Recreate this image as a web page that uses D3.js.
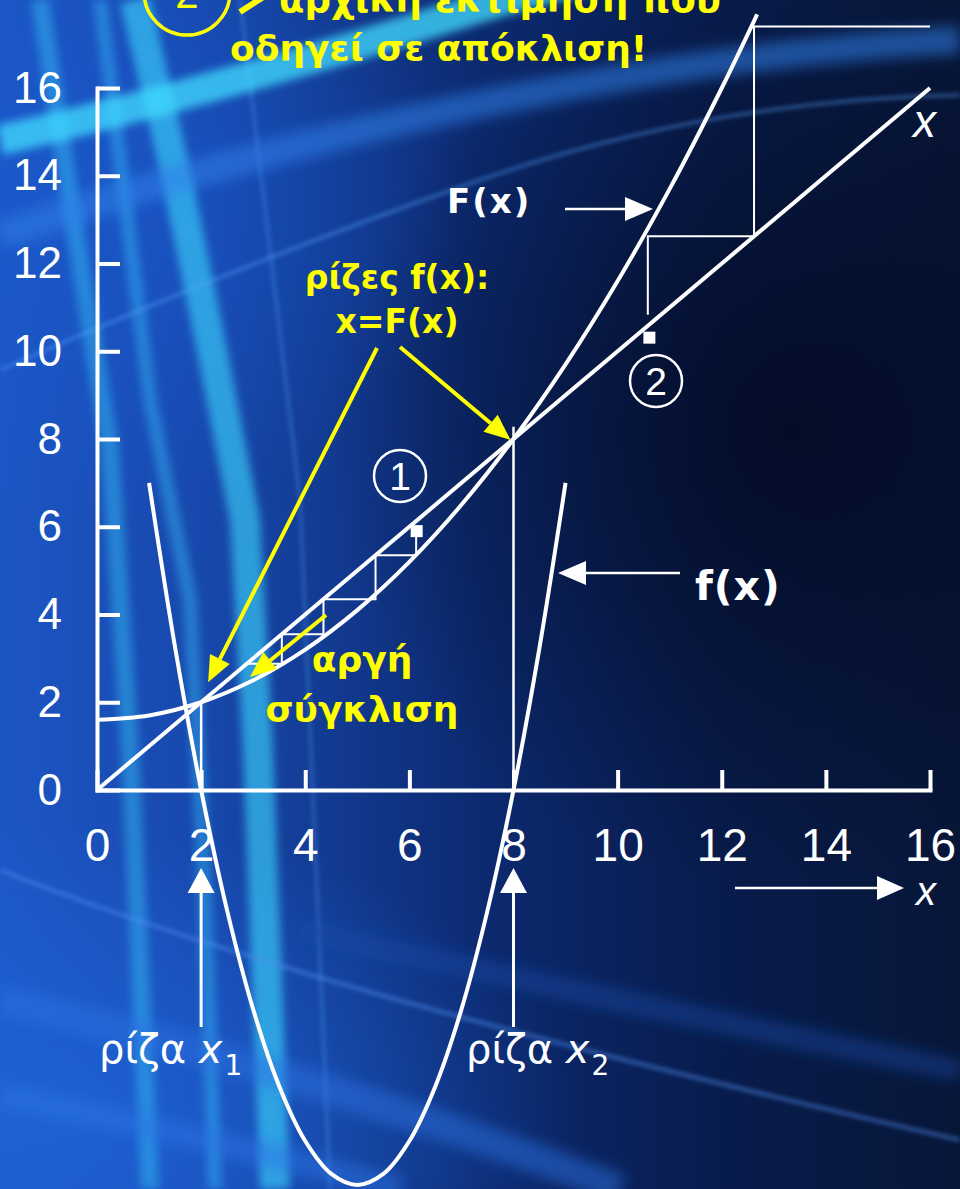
<!DOCTYPE html>
<html><head><meta charset="utf-8">
<script src="https://cdn.jsdelivr.net/npm/d3@7"></script>
<style>
html,body{margin:0;padding:0;background:#07163a;}
svg{display:block;}
</style></head><body>
<svg id="chart" width="960" height="1189"></svg>
<script>
// ---------- data ----------
const xTicks = [0, 2, 4, 6, 8, 10, 12, 14, 16];
const yTicks = [0, 2, 4, 6, 8, 10, 12, 14, 16];

// iteration function F(x), sampled along x
const bigFX = [0, 1, 2, 3, 4, 5, 6, 7, 8, 9, 10, 11, 12, 12.68];
const bigFY = [1.6, 1.7, 2.0, 2.5, 3.2, 4.1, 5.2, 6.5, 8.0, 9.7, 11.6, 13.7, 16.0, 17.68];

// f(x), sampled along x
const smallFX = [1, 1.5, 2, 2.5, 3, 3.5, 4, 4.5, 5, 5.5, 6, 6.5, 7, 7.5, 8, 8.5, 9];
const smallFY = [7, 3.25, 0, -2.75, -5, -6.75, -8, -8.75, -9, -8.75, -8, -6.75, -5, -2.75, 0, 3.25, 7];

// line y = x
const diagX = [0, 16];

// roots and their drop lines
const roots = [2, 8];
const rootDropTop = [2.0, 8.28];
const rootLabels = ["1", "2"];

// fixed-point iterates: 1 converges slowly, 2 diverges
const cobweb1 = [6.13, 5.35, 4.35, 3.55, 2.88];
const cobweb2 = [10.58, 12.62, 17.4];
const cobStartY = [5.9, 10.83];
const startMarkers = [[6.14, 5.9], [10.61, 10.31]];

// ---------- layout ----------
const W = 960, H = 1189;
const svg = d3.select("#chart");
const x = d3.scaleLinear().domain([0, 16]).range([97, 930]);
const y = d3.scaleLinear().domain([0, 16]).range([790, 88]);

const YEL = "#ffff00";
const sansBold = "'DejaVu Sans', Verdana, sans-serif";
const arial = "'Liberation Sans', Arial, sans-serif";

// ---------- background ----------
const defs = svg.append("defs");
const lg = defs.append("linearGradient").attr("id", "bgH").attr("x1", 0).attr("x2", 1).attr("y1", 0).attr("y2", 0);
[[0, "#1c56c4"], [0.22, "#1747ab"], [0.5, "#0c2a70"], [0.75, "#081c4c"], [1, "#071638"]]
  .forEach(([o, c]) => lg.append("stop").attr("offset", o).attr("stop-color", c));

function radial(id, stops) {
  const g = defs.append("radialGradient").attr("id", id);
  stops.forEach(([o, c, op]) => g.append("stop").attr("offset", o).attr("stop-color", c).attr("stop-opacity", op));
}
radial("darkR", [[0, "#030a22", 0.85], [1, "#030a22", 0]]);
radial("glowBL", [[0, "#1f66dc", 0.75], [1, "#1f66dc", 0]]);
radial("glowTL", [[0, "#1a5ad0", 0.6], [1, "#1a5ad0", 0]]);

function blurFilter(id, sd) {
  defs.append("filter").attr("id", id).attr("x", "-20%").attr("y", "-20%").attr("width", "140%").attr("height", "140%")
    .append("feGaussianBlur").attr("stdDeviation", sd);
}
blurFilter("blurBig", 7);
blurFilter("blurMid", 4);
blurFilter("blurSm", 2);

const bg = svg.append("g").attr("class", "background");
bg.append("rect").attr("width", W).attr("height", H).attr("fill", "url(#bgH)");
bg.append("ellipse").attr("cx", 790).attr("cy", 430).attr("rx", 460).attr("ry", 460).attr("fill", "url(#darkR)");
bg.append("ellipse").attr("cx", 60).attr("cy", 1120).attr("rx", 520).attr("ry", 300).attr("fill", "url(#glowBL)");
bg.append("ellipse").attr("cx", 80).attr("cy", 200).attr("rx", 380).attr("ry", 320).attr("fill", "url(#glowTL)");

const streaks = [
  // vertical glow bands
  { d: "M40,0 L75,230 L110,450 L130,750 L150,1189", w: 18, c: "#38c4f8", o: 0.45, f: "blurMid" },
  { d: "M135,0 L175,170 L210,340 L245,520 L258,750 L275,1189", w: 30, c: "#3ed8ff", o: 0.6, f: "blurMid" },
  { d: "M100,0 L150,400 L190,600 L205,900 L215,1189", w: 14, c: "#3ac8ff", o: 0.4, f: "blurMid" },
  { d: "M240,0 L300,500 L330,1189", w: 3, c: "#5aa8ff", o: 0.35, f: "blurSm" },
  // sweeping horizontal bands
  { d: "M0,140 Q200,95 480,8 T960,-40", w: 30, c: "#42dcff", o: 0.75, f: "blurMid" },
  { d: "M0,235 Q250,150 500,100 T960,40", w: 28, c: "#2f80ea", o: 0.55, f: "blurBig" },
  { d: "M0,370 Q250,260 480,180 T960,95", w: 3, c: "#56a6ff", o: 0.5, f: "blurSm" },
  { d: "M0,870 Q300,990 960,1140", w: 4, c: "#4f90f2", o: 0.5, f: "blurSm" },
  { d: "M0,1000 Q300,1070 620,1189", w: 30, c: "#2a70e2", o: 0.5, f: "blurBig" },
  { d: "M0,1095 Q200,1135 400,1189", w: 24, c: "#2c74e6", o: 0.5, f: "blurBig" },
  { d: "M300,930 Q650,1010 960,1070", w: 22, c: "#1c4aa8", o: 0.45, f: "blurBig" }
];
bg.selectAll("path.streak").data(streaks).join("path")
  .attr("class", "streak")
  .attr("d", d => d.d).attr("fill", "none")
  .attr("stroke", d => d.c).attr("stroke-width", d => d.w)
  .attr("stroke-opacity", d => d.o).attr("filter", d => `url(#${d.f})`);

// ---------- axes ----------
const axisG = svg.append("g").attr("class", "axes");
const yAxis = d3.axisLeft(y).tickValues(yTicks).tickSize(-23).tickSizeOuter(0).tickPadding(35);
const xAxis = d3.axisBottom(x).tickValues(xTicks).tickSize(-20).tickSizeOuter(0).tickPadding(38);

const gy = axisG.append("g").attr("transform", `translate(${x(0)},0)`).call(yAxis);
const gx = axisG.append("g").attr("transform", `translate(0,${y(0)})`).call(xAxis);
[gy, gx].forEach(g => {
  g.select(".domain").attr("stroke", "#fff").attr("stroke-width", 4).attr("stroke-linecap", "square");
  g.selectAll(".tick line").attr("stroke", "#fff").attr("stroke-width", 4);
  g.selectAll(".tick text").attr("fill", "#fff").attr("font-family", arial);
});
gy.selectAll(".tick text").attr("font-size", 44);
gx.selectAll(".tick text").attr("font-size", 46);

// ---------- curves ----------
const plot = svg.append("g").attr("class", "plot");
const smooth = d3.line().x(d => x(d[0])).y(d => y(d[1])).curve(d3.curveCatmullRom.alpha(0.5));
const straight = d3.line().x(d => x(d[0])).y(d => y(d[1]));

// y = x
plot.append("path").attr("d", straight(diagX.map(v => [v, v])))
  .attr("fill", "none").attr("stroke", "#fff").attr("stroke-width", 4);
// F(x)
plot.append("path").attr("d", smooth(bigFX.map((v, i) => [v, bigFY[i]])))
  .attr("fill", "none").attr("stroke", "#fff").attr("stroke-width", 4);
// f(x)
plot.append("path").attr("d", smooth(smallFX.map((v, i) => [v, smallFY[i]])))
  .attr("fill", "none").attr("stroke", "#fff").attr("stroke-width", 4);

// drop lines at the roots
plot.selectAll("line.drop").data(roots).join("line").attr("class", "drop")
  .attr("x1", d => x(d)).attr("x2", d => x(d))
  .attr("y1", (d, i) => y(rootDropTop[i])).attr("y2", y(0))
  .attr("stroke", "#fff").attr("stroke-width", 2.5);

// cobweb staircases
function cobPath(xs, y0, xMax) {
  const pts = [[xs[0], y0]];
  for (let i = 1; i < xs.length; i++) {
    pts.push([xs[i - 1], xs[i]]);
    pts.push([Math.min(xs[i], xMax), xs[i]]);
  }
  return pts;
}
[cobweb1, cobweb2].forEach((c, i) => {
  plot.append("path").attr("d", straight(cobPath(c, cobStartY[i], 16)))
    .attr("fill", "none").attr("stroke", "#fff").attr("stroke-width", 2);
});
plot.selectAll("rect.start").data(startMarkers).join("rect").attr("class", "start")
  .attr("x", d => x(d[0]) - 6).attr("y", d => y(d[1]) - 6)
  .attr("width", 12).attr("height", 12).attr("fill", "#fff");

// circled case numbers
const cases = [{ n: "1", cx: 400, cy: 476 }, { n: "2", cx: 656, cy: 381 }];
const cg = plot.selectAll("g.case").data(cases).join("g").attr("class", "case")
  .attr("transform", d => `translate(${d.cx},${d.cy})`);
cg.append("circle").attr("r", 26).attr("fill", "none").attr("stroke", "#fff").attr("stroke-width", 2.5);
cg.append("text").text(d => d.n).attr("text-anchor", "middle").attr("y", 14)
  .attr("font-family", arial).attr("font-size", 39).attr("fill", "#fff");

// ---------- annotations ----------
const ann = svg.append("g").attr("class", "annotations");

function arrow(x1, y1, x2, y2, color, w, headLen, headW) {
  const a = Math.atan2(y2 - y1, x2 - x1);
  const bx = x2 - headLen * Math.cos(a), by = y2 - headLen * Math.sin(a);
  ann.append("line").attr("x1", x1).attr("y1", y1).attr("x2", bx).attr("y2", by)
    .attr("stroke", color).attr("stroke-width", w);
  const px = -Math.sin(a) * headW / 2, py = Math.cos(a) * headW / 2;
  ann.append("path").attr("d", `M${x2},${y2} L${bx + px},${by + py} L${bx - px},${by - py} Z`).attr("fill", color);
}

// root pointers from below
roots.forEach(r => arrow(x(r), 1027, x(r), 868, "#fff", 3, 25, 27));
// curve labels
arrow(565, 209, 653, 209, "#fff", 2.5, 28, 24);
arrow(680, 573, 558, 573, "#fff", 2.5, 28, 24);
arrow(735, 888, 904, 888, "#fff", 2.5, 27, 24);
// yellow pointers to the roots
arrow(377, 348, x(2) + 7, y(2) - 20, YEL, 4, 26, 22);
arrow(400, 347, x(8) - 3, y(8) + 1, YEL, 4, 26, 22);
arrow(326, 615, 250, 677, YEL, 4, 26, 22);

ann.append("text").text("F(x)").attr("x", 447).attr("y", 213)
  .attr("font-family", sansBold).attr("font-weight", "bold").attr("font-size", 34)
  .attr("letter-spacing", 2).attr("fill", "#fff");
ann.append("text").text("f(x)").attr("x", 695).attr("y", 600)
  .attr("font-family", sansBold).attr("font-weight", "bold").attr("font-size", 41)
  .attr("letter-spacing", 1).attr("fill", "#fff");

ann.append("text").text("x").attr("x", 913).attr("y", 137)
  .attr("font-family", arial).attr("font-style", "italic").attr("font-size", 46).attr("fill", "#fff");
ann.append("text").text("x").attr("x", 916).attr("y", 905)
  .attr("font-family", arial).attr("font-style", "italic").attr("font-size", 40).attr("fill", "#fff");

// root labels
const rootLabelX = [99, 466];
roots.forEach((r, i) => {
  const t = ann.append("text").attr("x", rootLabelX[i]).attr("y", 1063)
    .attr("font-family", sansBold).attr("font-size", 40).attr("fill", "#fff");
  t.append("tspan").text("ρίζα ");
  t.append("tspan").text("x").attr("font-style", "italic");
  t.append("tspan").text(rootLabels[i]).attr("font-size", 28).attr("dy", 12).attr("dx", 2);
});

// yellow notes
function note(lines, cx, baselines, size) {
  lines.forEach((s, i) => ann.append("text").text(s).attr("x", cx).attr("y", baselines[i])
    .attr("text-anchor", "middle").attr("font-family", sansBold).attr("font-weight", "bold")
    .attr("font-size", size).attr("fill", YEL));
}
note(["ρίζες f(x):", "x=F(x)"], 397, [289, 333], 33);
note(["αργή", "σύγκλιση"], 362, [672, 722], 36);

// heading (partly above the top edge)
ann.append("circle").attr("cx", 187).attr("cy", -8).attr("r", 43)
  .attr("fill", "none").attr("stroke", YEL).attr("stroke-width", 3.5);
ann.append("text").text("2").attr("x", 187).attr("y", 8).attr("text-anchor", "middle")
  .attr("font-family", arial).attr("font-size", 42).attr("fill", YEL);
ann.append("path").attr("d", "M238,-24 L268,-6 L240,12").attr("fill", "none")
  .attr("stroke", YEL).attr("stroke-width", 6);
ann.append("text").text("αρχική εκτίμηση  που").attr("x", 279).attr("y", 12)
  .attr("font-family", sansBold).attr("font-weight", "bold").attr("font-size", 37).attr("fill", YEL);
ann.append("text").text("οδηγεί σε απόκλιση!").attr("x", 230).attr("y", 61)
  .attr("font-family", sansBold).attr("font-weight", "bold").attr("font-size", 36).attr("fill", YEL);
</script>
</body></html>
